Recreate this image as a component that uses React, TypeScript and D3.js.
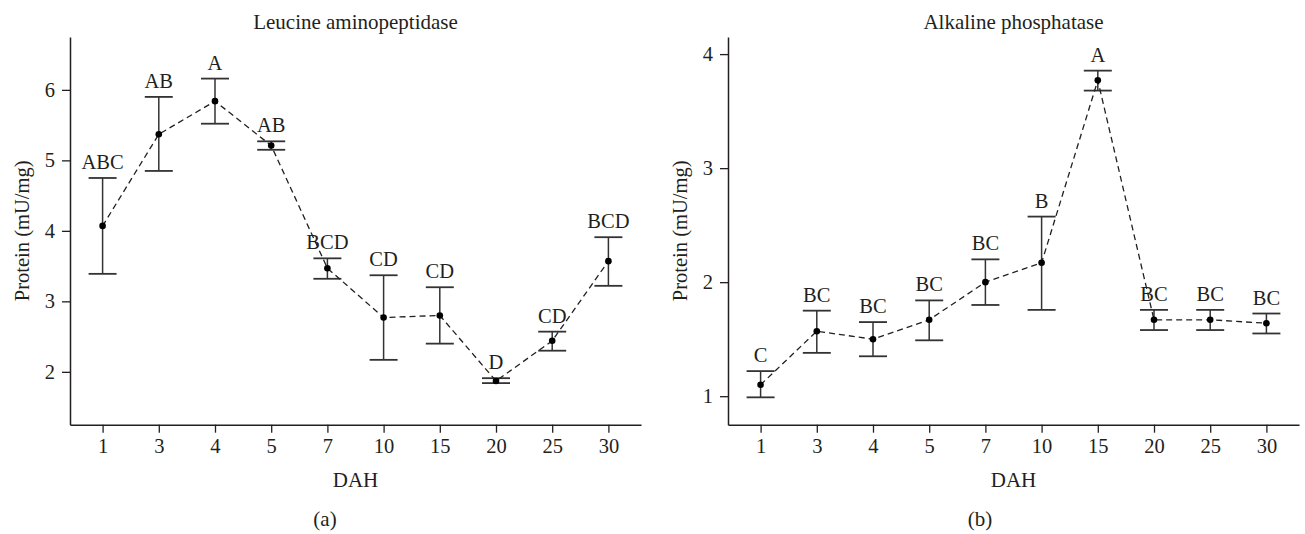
import React, { useEffect, useRef } from 'react';
import * as d3 from 'd3';

const days = ['1', '3', '4', '5', '7', '10', '15', '20', '25', '30'];

// Leucine aminopeptidase
const lapMean = [4.07, 5.37, 5.84, 5.21, 3.47, 2.77, 2.8, 1.87, 2.44, 3.57];
const lapUpper = [4.75, 5.9, 6.16, 5.27, 3.61, 3.37, 3.2, 1.91, 2.57, 3.91];
const lapLower = [3.39, 4.85, 5.52, 5.15, 3.32, 2.17, 2.4, 1.84, 2.3, 3.22];
const lapGroups = ['ABC', 'AB', 'A', 'AB', 'BCD', 'CD', 'CD', 'D', 'CD', 'BCD'];
const lapTicks = [2, 3, 4, 5, 6];

// Alkaline phosphatase
const alpMean = [1.1, 1.57, 1.5, 1.67, 2.0, 2.17, 3.77, 1.67, 1.67, 1.64];
const alpUpper = [1.22, 1.75, 1.65, 1.84, 2.2, 2.575, 3.855, 1.757, 1.757, 1.725];
const alpLower = [0.99, 1.38, 1.35, 1.49, 1.8, 1.757, 3.68, 1.58, 1.58, 1.55];
const alpGroups = ['C', 'BC', 'BC', 'BC', 'BC', 'B', 'A', 'BC', 'BC', 'BC'];
const alpTicks = [1, 2, 3, 4];

const FONT = '"Liberation Serif", "Times New Roman", serif';
const INK = '#231f20';

interface Panel {
  title: string;
  tag: string;
  mean: number[];
  upper: number[];
  lower: number[];
  groups: string[];
  ticks: number[];
  domain: [number, number];
  left: number;
  panelLeft: number;
}

const panels: Panel[] = [
  {
    title: 'Leucine aminopeptidase',
    tag: '(a)',
    mean: lapMean,
    upper: lapUpper,
    lower: lapLower,
    groups: lapGroups,
    ticks: lapTicks,
    domain: [1.25, 6.75],
    left: 70,
    panelLeft: 0,
  },
  {
    title: 'Alkaline phosphatase',
    tag: '(b)',
    mean: alpMean,
    upper: alpUpper,
    lower: alpLower,
    groups: alpGroups,
    ticks: alpTicks,
    domain: [0.75, 4.15],
    left: 728,
    panelLeft: 655,
  },
];

export default function App() {
  const svgRef = useRef<SVGSVGElement>(null);

  useEffect(() => {
    if (!svgRef.current) return;
    const svg = d3.select(svgRef.current);
    svg.selectAll('*').remove();

    const top = 37;
    const bottom = 424.7;
    const plotWidth = 571;

    panels.forEach(p => {
      const g = svg.append('g');
      const x = d3.scalePoint<string>()
        .domain(days)
        .range([p.left, p.left + plotWidth])
        .padding(0.58);
      const y = d3.scaleLinear().domain(p.domain).range([bottom, top]);

      // axes
      const xAxis = g.append('g')
        .attr('transform', `translate(0,${bottom})`)
        .call(d3.axisBottom(x).tickSize(8).tickSizeOuter(0).tickPadding(6));
      const yAxis = g.append('g')
        .attr('transform', `translate(${p.left},0)`)
        .call(d3.axisLeft(y).tickValues(p.ticks).tickSize(8).tickSizeOuter(0).tickPadding(7)
          .tickFormat(d3.format('d')));
      [xAxis, yAxis].forEach(a => {
        a.select('.domain').attr('stroke', INK).attr('stroke-width', 1.5);
        a.selectAll('.tick line').attr('stroke', INK).attr('stroke-width', 1.3);
        a.selectAll('.tick text')
          .attr('fill', INK)
          .attr('font-family', FONT)
          .attr('font-size', 20.5);
      });
      xAxis.selectAll('.tick text').attr('dy', '0.71em');

      // error bars
      const capHalf = 14;
      days.forEach((d, i) => {
        const cx = x(d)!;
        g.append('line')
          .attr('x1', cx).attr('x2', cx)
          .attr('y1', y(p.upper[i])).attr('y2', y(p.lower[i]))
          .attr('stroke', '#333').attr('stroke-width', 1.5);
        [p.upper[i], p.lower[i]].forEach(v => {
          g.append('line')
            .attr('x1', cx - capHalf).attr('x2', cx + capHalf)
            .attr('y1', y(v)).attr('y2', y(v))
            .attr('stroke', '#333').attr('stroke-width', 1.8);
        });
        g.append('text')
          .attr('x', cx)
          .attr('y', y(p.upper[i]) - 9)
          .attr('text-anchor', 'middle')
          .attr('font-family', FONT)
          .attr('font-size', 20.5)
          .attr('fill', INK)
          .text(p.groups[i]);
      });

      // dashed mean line
      const line = d3.line<number>()
        .x((_, i) => x(days[i])!)
        .y(v => y(v));
      g.append('path')
        .attr('d', line(p.mean))
        .attr('fill', 'none')
        .attr('stroke', INK)
        .attr('stroke-width', 1.3)
        .attr('stroke-dasharray', '6,4');

      g.selectAll('circle.pt')
        .data(p.mean)
        .enter()
        .append('circle')
        .attr('class', 'pt')
        .attr('cx', (_, i) => x(days[i])!)
        .attr('cy', v => y(v))
        .attr('r', 3.3)
        .attr('fill', '#000');

      const mid = p.left + plotWidth / 2;
      g.append('text')
        .attr('x', mid).attr('y', 29)
        .attr('text-anchor', 'middle')
        .attr('font-family', FONT).attr('font-size', 21).attr('fill', INK)
        .text(p.title);
      g.append('text')
        .attr('x', mid).attr('y', 487)
        .attr('text-anchor', 'middle')
        .attr('font-family', FONT).attr('font-size', 21).attr('fill', INK)
        .text('DAH');
      g.append('text')
        .attr('transform', `translate(${p.left - 41},${(top + bottom) / 2}) rotate(-90)`)
        .attr('text-anchor', 'middle')
        .attr('font-family', FONT).attr('font-size', 20.5).attr('fill', INK)
        .text('Protein (mU/mg)');
      g.append('text')
        .attr('x', p.panelLeft + 325).attr('y', 526)
        .attr('text-anchor', 'middle')
        .attr('font-family', FONT).attr('font-size', 21).attr('fill', INK)
        .text(p.tag);
    });
  }, []);

  return (
    <svg
      ref={svgRef}
      width={1305}
      height={534}
      style={{ position: 'absolute', left: 0, top: 0, background: '#fff' }}
    />
  );
}
